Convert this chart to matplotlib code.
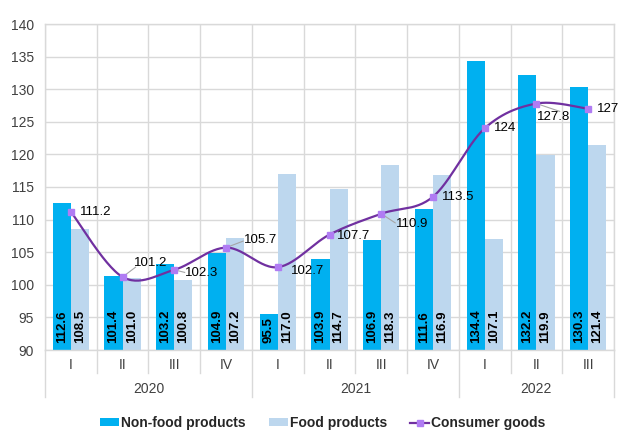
import numpy as np
import matplotlib
matplotlib.use("Agg")
import matplotlib.pyplot as plt
from matplotlib.lines import Line2D
from matplotlib.patches import Patch

quarters = ["I", "II", "III", "IV", "I", "II", "III", "IV", "I", "II", "III"]
years = ["2020", "2021", "2022"]
year_spans = [(0, 4), (4, 8), (8, 11)]
non_food = [112.6, 101.4, 103.2, 104.9, 95.5, 103.9, 106.9, 111.6, 134.4, 132.2, 130.3]
food = [108.5, 101.0, 100.8, 107.2, 117.0, 114.7, 118.3, 116.9, 107.1, 119.9, 121.4]
consumer = [111.2, 101.2, 102.3, 105.7, 102.7, 107.7, 110.9, 113.5, 124, 127.8, 127]
consumer_labels = ["111.2", "101.2", "102.3", "105.7", "102.7", "107.7", "110.9",
                   "113.5", "124", "127.8", "127"]

C_NONFOOD = "#00B0F0"
C_FOOD = "#BDD7EE"
C_LINE = "#7030A0"
C_MARK = "#B07CF3"
C_GRID = "#D9D9D9"
C_TEXT = "#404040"

plt.rcParams["font.family"] = ["Liberation Sans", "DejaVu Sans"]

fig = plt.figure(figsize=(6.18, 4.30), dpi=100)
ax = fig.add_axes([45 / 618, 80 / 430, (614 - 45) / 618, (350 - 24) / 430])

n = len(quarters)
x = np.arange(n)
bw = 0.35
ax.bar(x - bw / 2, np.array(non_food) - 90, bw, bottom=90, color=C_NONFOOD, zorder=2)
ax.bar(x + bw / 2, np.array(food) - 90, bw, bottom=90, color=C_FOOD, zorder=2)

for xi, v in zip(x, non_food):
    ax.text(xi - bw / 2, 91.0, f"{v:.1f}", rotation=90, ha="center", va="bottom",
            fontsize=9.5, fontweight="bold", color="black", zorder=4)
for xi, v in zip(x, food):
    ax.text(xi + bw / 2, 91.0, f"{v:.1f}", rotation=90, ha="center", va="bottom",
            fontsize=9.5, fontweight="bold", color="black", zorder=4)


# Smoothed line (Catmull-Rom through the data points)
def catmull_rom(px, py, steps=30):
    P = np.column_stack([px, py]).astype(float)
    P = np.vstack([P[0], P, P[-1]])
    out = []
    for i in range(1, len(P) - 2):
        p0, p1, p2, p3 = P[i - 1], P[i], P[i + 1], P[i + 2]
        c1 = p1 + (p2 - p0) / 6
        c2 = p2 - (p3 - p1) / 6
        t = np.linspace(0, 1, steps)[:, None]
        seg = ((1 - t) ** 3) * p1 + 3 * ((1 - t) ** 2) * t * c1 + 3 * (1 - t) * t ** 2 * c2 + t ** 3 * p2
        out.append(seg if i == 1 else seg[1:])
    return np.vstack(out)


curve = catmull_rom(x, consumer)
ax.plot(curve[:, 0], curve[:, 1], color=C_LINE, lw=1.6, zorder=3, solid_capstyle="round")
ax.plot(x, consumer, ls="none", marker="s", ms=5, color=C_MARK, zorder=4)

# label text positions (offsets in category / value units) and leader line ends
label_pos = [
    (0.18, 0.0, None),
    (0.55, 2.1, (0.25, 1.5)),
    (0.2, -0.5, (0.2, -0.4)),
    (0.35, 1.1, (0.33, 1.0)),
    (0.25, -0.6, None),
    (0.15, -0.2, None),
    (0.28, -1.5, (0.27, -1.4)),
    (0.17, 0.0, None),
    (0.17, 0.0, None),
    (0.02, -2.0, (0.45, -1.2)),
    (0.17, 0.0, None),
]
for xi, v, lab, (dx, dy, leader) in zip(x, consumer, consumer_labels, label_pos):
    tx, ty = xi + dx, v + dy
    if leader is not None:
        ax.plot([xi, xi + leader[0]], [v, v + leader[1]],
                color="#A6A6A6", lw=0.8, zorder=2.5)
    ha = "center" if dx > 0.4 else "left"
    ax.text(tx, ty, lab, ha=ha, va="center", fontsize=9.5, color="black", zorder=5)

ax.set_xlim(-0.5, n - 0.5)
ax.set_ylim(90, 140)
ax.set_yticks(np.arange(90, 141, 5))
ax.tick_params(axis="y", length=0, labelsize=10, pad=8, labelcolor=C_TEXT)
ax.set_xticks([])
ax.yaxis.grid(True, color=C_GRID, lw=1, zorder=0)
for b in np.arange(-0.5, n, 1.0):
    ax.axvline(b, color=C_GRID, lw=1, zorder=0)
for s in ax.spines.values():
    s.set_color(C_GRID)
    s.set_linewidth(1)

# category axis: quarter labels, year labels and separators
trans = ax.get_xaxis_transform()
h_ax = 326.0
for xi, q in zip(x, quarters):
    ax.text(xi, -15 / h_ax, q, transform=trans, ha="center", va="center", fontsize=10,
            color=C_TEXT, clip_on=False)
year_edges = {s - 0.5 for s, e in year_spans} | {e - 0.5 for s, e in year_spans}
for b in np.arange(-0.5, n, 1.0):
    depth = 47 if b in year_edges else 23
    ax.plot([b, b], [0, -depth / h_ax], transform=trans, color=C_GRID, lw=1, clip_on=False)
for (s, e), yr in zip(year_spans, years):
    ax.text((s + e - 1) / 2, -39 / h_ax, yr, transform=trans, ha="center", va="center",
            fontsize=10, color=C_TEXT, clip_on=False)

handles = [
    Patch(facecolor=C_NONFOOD, edgecolor="none", label="Non-food products"),
    Patch(facecolor=C_FOOD, edgecolor="none", label="Food products"),
    Line2D([0], [0], color=C_LINE, lw=1.6, marker="s", ms=4, markerfacecolor=C_MARK,
           markeredgecolor=C_MARK, label="Consumer goods"),
]
leg = fig.legend(handles=handles, loc="center", bbox_to_anchor=(323 / 618, 7 / 430), ncol=3,
                 frameon=False, prop={"size": 10, "weight": "bold"}, handlelength=1.37,
                 handleheight=0.45, columnspacing=1.65, handletextpad=0.15,
                 borderpad=0, borderaxespad=0)
for t in leg.get_texts():
    t.set_color("#262626")

fig.savefig("out.png", dpi=100)
